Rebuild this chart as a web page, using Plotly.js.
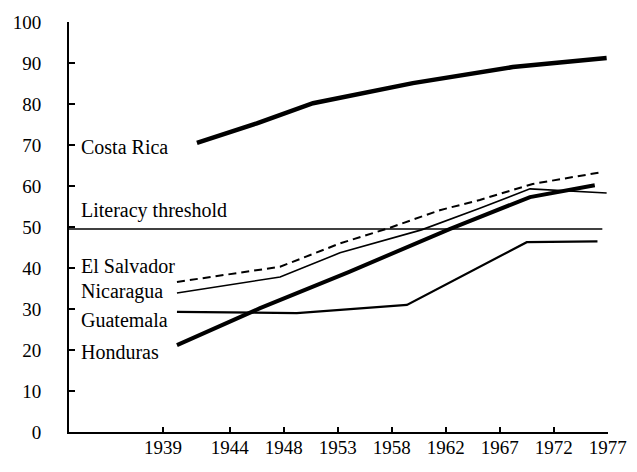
<!DOCTYPE html>
<html>
<head>
<meta charset="utf-8">
<script src="https://cdn.plot.ly/plotly-3.0.1.min.js"></script>
<style>html,body{margin:0;padding:0;background:#fff;}#chart{width:637px;height:472px;}</style>
</head>
<body>
<div id="chart"></div>
<script>
// x positions are in "axis slot" units as drawn on the original (1944 = 0, one slot per later tick)
var yearLabels = ["1939", "1944", "1948", "1953", "1958", "1962", "1967", "1972", "1977"];
var yearSlots  = [-1.24, 0, 1, 2, 3, 4, 5, 6, 7];

var costaRicaX = [-0.61, 0.5, 1.54, 3.39, 5.24, 6.98];
var costaRicaY = [70.5, 75.3, 80.2, 85.1, 89.0, 91.2];

var elSalvadorX = [-0.98, 0.93, 2.04, 2.96, 3.89, 4.63, 5.61, 6.9];
var elSalvadorY = [36.6, 40.3, 46.0, 49.8, 54.1, 56.6, 60.5, 63.4];

var nicaraguaX = [-0.98, 0.93, 2.04, 3.55, 4.63, 5.56, 6.98];
var nicaraguaY = [33.9, 37.8, 43.7, 49.3, 54.6, 59.3, 58.3];

var guatemalaX = [-0.98, 1.24, 3.28, 5.5, 6.81];
var guatemalaY = [29.3, 29.0, 31.0, 46.3, 46.5];

var hondurasX = [-0.98, 0.56, 2.2, 4.07, 5.56, 6.76];
var hondurasY = [21.2, 30.2, 39.0, 49.5, 57.3, 60.2];

var thresholdX = [-2.98, 6.9];
var thresholdValue = 49.5;

var yTicks = [0, 10, 20, 30, 40, 50, 60, 70, 80, 90, 100];

var seriesLabels = ["Costa Rica", "Literacy threshold", "El Salvador", "Nicaragua", "Guatemala", "Honduras"];
var labelY = [69.6, 54.1, 40.4, 34.3, 27.3, 19.6];

var FONT = "Liberation Serif, Times New Roman, serif";

var traces = [
  {x: thresholdX, y: thresholdX.map(function(){return thresholdValue;}), mode: "lines",
   line: {color: "#000", width: 1.6}},
  {x: costaRicaX, y: costaRicaY, mode: "lines", line: {color: "#000", width: 4.5}},
  {x: elSalvadorX, y: elSalvadorY, mode: "lines", line: {color: "#000", width: 2, dash: "8px,5px"}},
  {x: nicaraguaX, y: nicaraguaY, mode: "lines", line: {color: "#000", width: 1.6}},
  {x: guatemalaX, y: guatemalaY, mode: "lines", line: {color: "#000", width: 2.2}},
  {x: hondurasX, y: hondurasY, mode: "lines", line: {color: "#000", width: 4}}
];

var annotations = seriesLabels.map(function(t, i) {
  return {x: -2.8, y: labelY[i], xref: "x", yref: "y", text: t, showarrow: false,
          xanchor: "left", yanchor: "middle", font: {family: FONT, size: 20, color: "#000"}};
});

var layout = {
  width: 637, height: 472,
  margin: {l: 69, r: 29, t: 22, b: 40, pad: 0},
  paper_bgcolor: "#fff", plot_bgcolor: "#fff",
  showlegend: false,
  font: {family: FONT, color: "#000"},
  xaxis: {
    range: [-2.98, 7.005], showgrid: false, zeroline: false,
    showline: true, linecolor: "#000", linewidth: 2,
    tickmode: "array", tickvals: yearSlots, ticktext: yearLabels,
    ticks: "inside", ticklen: 5, tickwidth: 1.5, tickcolor: "#000",
    ticklabelstandoff: -3,
    tickfont: {family: FONT, size: 19, color: "#000"}
  },
  yaxis: {
    range: [0, 100], showgrid: false, zeroline: false,
    showline: true, linecolor: "#000", linewidth: 2,
    tickmode: "array", tickvals: yTicks,
    ticks: "inside", ticklen: 6, tickwidth: 1.5, tickcolor: "#000",
    ticklabelstandoff: 22,
    tickfont: {family: FONT, size: 19, color: "#000"}
  },
  annotations: annotations
};

Plotly.newPlot("chart", traces, layout, {displayModeBar: false, staticPlot: true});
</script>
</body>
</html>
